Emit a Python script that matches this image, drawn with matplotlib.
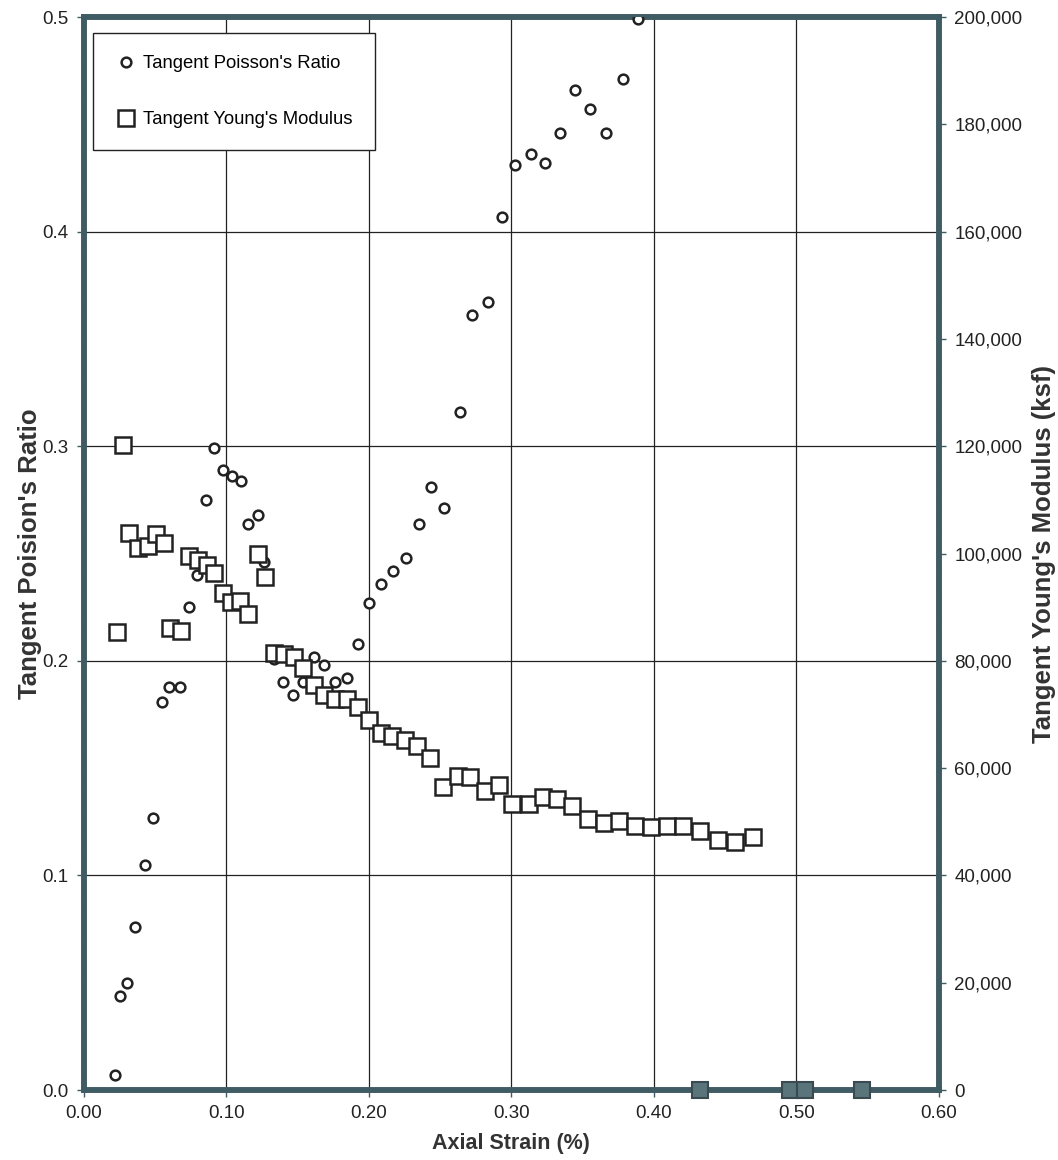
import matplotlib
matplotlib.use('Agg')
import matplotlib.pyplot as plt
from matplotlib.ticker import MultipleLocator, FuncFormatter
import numpy as np

plt.rcParams['font.family'] = ['Liberation Sans', 'DejaVu Sans']

# Tangent Poisson's ratio vs axial strain (%)
nu_strain = [0.0218, 0.0253, 0.0300, 0.0358, 0.0428, 0.0487, 0.0546, 0.0599, 0.0674,
             0.0740, 0.0796, 0.0857, 0.0915, 0.0974, 0.1037, 0.1100, 0.1154, 0.1220,
             0.1266, 0.1330, 0.1400, 0.1466, 0.1536, 0.1611, 0.1685, 0.1763, 0.1845,
             0.1920, 0.2001, 0.2083, 0.2172, 0.2261, 0.2348, 0.2435, 0.2530, 0.2636,
             0.2722, 0.2832, 0.2933, 0.3027, 0.3139, 0.3237, 0.3343, 0.3448, 0.3553,
             0.3666, 0.3783, 0.3888]
nu_value = [0.007, 0.044, 0.050, 0.076, 0.105, 0.127, 0.181, 0.188, 0.188,
            0.225, 0.240, 0.275, 0.299, 0.289, 0.286, 0.284, 0.264, 0.268,
            0.246, 0.201, 0.190, 0.184, 0.190, 0.202, 0.198, 0.190, 0.192,
            0.208, 0.227, 0.236, 0.242, 0.248, 0.264, 0.281, 0.271, 0.316,
            0.361, 0.367, 0.407, 0.431, 0.436, 0.432, 0.446, 0.466, 0.457,
            0.446, 0.471, 0.499]

# Tangent Young's modulus (ksf) vs axial strain (%)
e_strain = [0.0234, 0.0276, 0.0318, 0.0377, 0.0447, 0.0506, 0.0562, 0.0604, 0.0681,
            0.0740, 0.0803, 0.0862, 0.0915, 0.0974, 0.1032, 0.1096, 0.1154, 0.1220,
            0.1271, 0.1330, 0.1405, 0.1475, 0.1536, 0.1611, 0.1685, 0.1763, 0.1845,
            0.1920, 0.2001, 0.2083, 0.2165, 0.2254, 0.2336, 0.2430, 0.2519, 0.2622,
            0.2711, 0.2816, 0.2914, 0.3003, 0.3120, 0.3221, 0.3319, 0.3425, 0.3534,
            0.3647, 0.3757, 0.3869, 0.3982, 0.4092, 0.4204, 0.4326, 0.4448, 0.4572,
            0.4693, 0.4326, 0.4958, 0.5063, 0.5461]
e_value = [85300, 120200, 103900, 101100, 101400, 103600, 101900, 86200, 85500,
           99600, 98800, 97900, 96300, 92600, 91000, 91100, 88700, 99900,
           95600, 81400, 81300, 80800, 78600, 75500, 73600, 72800, 72800,
           71400, 69000, 66600, 65900, 65200, 64100, 61800, 56400, 58500,
           58300, 55800, 56900, 53400, 53400, 54700, 54200, 53000, 50500,
           49800, 50200, 49200, 49100, 49200, 49200, 48300, 46600, 46300,
           47100, 0, 0, 0, 0]

spine_col = '#3f5b63'
text_col = '#333333'

fig = plt.figure(figsize=(10.58, 11.6), dpi=100)
ax = fig.add_axes([0.0794, 0.0603, 0.8080, 0.9250])
ax2 = ax.twinx()

ax.set_xlim(0, 0.6)
ax.set_ylim(0, 0.5)
ax2.set_ylim(0, 200000)

ax.xaxis.set_major_locator(MultipleLocator(0.1))
ax.xaxis.set_minor_locator(MultipleLocator(0.02))
ax.yaxis.set_major_locator(MultipleLocator(0.1))
ax.yaxis.set_minor_locator(MultipleLocator(0.01))
ax2.yaxis.set_major_locator(MultipleLocator(20000))
ax2.yaxis.set_minor_locator(MultipleLocator(4000))
ax.xaxis.set_major_formatter(FuncFormatter(lambda v, p: '%.2f' % v))
ax.yaxis.set_major_formatter(FuncFormatter(lambda v, p: '%.1f' % v))
ax2.yaxis.set_major_formatter(FuncFormatter(lambda v, p: '{:,.0f}'.format(v)))

ax.grid(True, which='major', color='#222222', linewidth=0.9)
ax.set_axisbelow(True)

for a in (ax, ax2):
    for s in a.spines.values():
        s.set_color(spine_col)
        s.set_linewidth(4)
    a.tick_params(which='major', length=5, width=1, color=spine_col, labelsize=13.5,
                  labelcolor='#222222', pad=6)
    a.tick_params(which='minor', length=3, width=0.8, color=spine_col, direction='inout')

h1, = ax2.plot(nu_strain, np.array(nu_value) * 400000, 'o', ms=7, mfc='white', mec='#222222',
               mew=1.8, label="Tangent Poisson's Ratio", zorder=5)

e_strain = np.array(e_strain)
e_value = np.array(e_value)
nz = e_value > 0
h2, = ax2.plot(e_strain[nz], e_value[nz], 's', ms=11, mfc='white', mec='#222222', mew=1.8,
               zorder=5, label="Tangent Young's Modulus")
ax2.plot(e_strain[~nz], e_value[~nz], 's', ms=11, mfc='#5a747c', mec='#3a4a50', mew=1.5,
         zorder=6, clip_on=False)

ax.set_xlabel('Axial Strain (%)', fontsize=15.5, fontweight='bold', color=text_col, labelpad=8)
ax.set_ylabel("Tangent Poision's Ratio", fontsize=18.5, fontweight='bold', color=text_col, labelpad=0)
ax2.set_ylabel("Tangent Young's Modulus (ksf)", fontsize=18.5, fontweight='bold', color=text_col,
               labelpad=7)

leg = ax2.legend(handles=[h1, h2], loc='upper left', bbox_to_anchor=(0.010, 0.985), fontsize=13.3,
                 frameon=True, fancybox=False, edgecolor='#222222', framealpha=1, borderpad=1.2,
                 labelspacing=2.1, handletextpad=0.35, handlelength=1.2, borderaxespad=0)
leg.get_frame().set_linewidth(1.0)

fig.savefig('out.png', dpi=100)
